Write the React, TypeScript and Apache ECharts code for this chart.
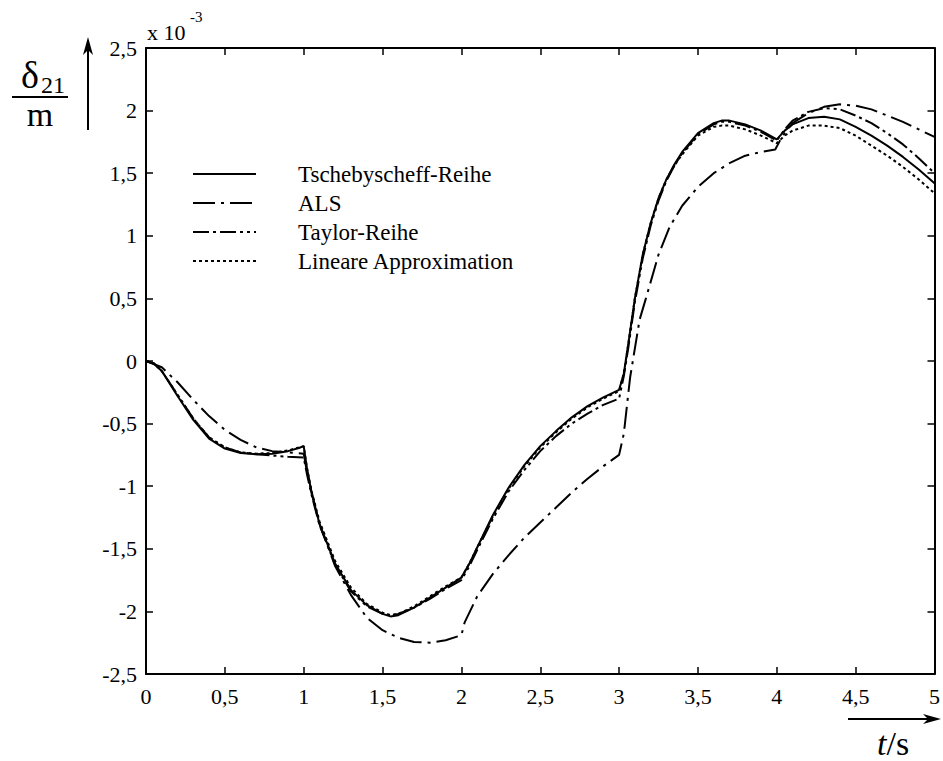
import React, { useEffect, useRef } from "react";
import * as echarts from "echarts";

const seriesNames = ["Tschebyscheff-Reihe", "ALS", "Taylor-Reihe", "Lineare Approximation"];

const tschebyscheff: [number, number][] = [
  [0, 0], [0.05, -0.02], [0.1, -0.08], [0.2, -0.28], [0.3, -0.47], [0.4, -0.62], [0.5, -0.7], [0.6, -0.735],
  [0.7, -0.745], [0.8, -0.74], [0.9, -0.72], [0.97, -0.695], [1.0, -0.68], [1.02, -0.85], [1.05, -1.05],
  [1.1, -1.3], [1.2, -1.62], [1.3, -1.83], [1.4, -1.95], [1.5, -2.02], [1.55, -2.04], [1.6, -2.03],
  [1.7, -1.97], [1.8, -1.89], [1.9, -1.81], [2.0, -1.73], [2.05, -1.62], [2.1, -1.49], [2.2, -1.23],
  [2.3, -1.01], [2.4, -0.83], [2.5, -0.68], [2.6, -0.56], [2.7, -0.45], [2.8, -0.36], [2.9, -0.29],
  [3.0, -0.23], [3.03, -0.1], [3.06, 0.15], [3.1, 0.5], [3.15, 0.85], [3.2, 1.1], [3.25, 1.3], [3.3, 1.45],
  [3.35, 1.57], [3.4, 1.67], [3.5, 1.82], [3.6, 1.9], [3.65, 1.92], [3.7, 1.92], [3.8, 1.89], [3.9, 1.84],
  [4.0, 1.77], [4.05, 1.84], [4.1, 1.89], [4.2, 1.94], [4.3, 1.95], [4.4, 1.93], [4.5, 1.87], [4.6, 1.8],
  [4.7, 1.72], [4.8, 1.63], [4.9, 1.53], [5.0, 1.42],
];

const als: [number, number][] = [
  [0, 0], [0.1, -0.05], [0.2, -0.17], [0.3, -0.31], [0.4, -0.44], [0.5, -0.55], [0.6, -0.63], [0.7, -0.69],
  [0.8, -0.72], [0.9, -0.73], [1.0, -0.74], [1.02, -0.88], [1.05, -1.05], [1.1, -1.3], [1.2, -1.64],
  [1.3, -1.87], [1.4, -2.05], [1.5, -2.15], [1.6, -2.21], [1.7, -2.245], [1.8, -2.25], [1.9, -2.23],
  [2.0, -2.19], [2.02, -2.09], [2.1, -1.88], [2.2, -1.7], [2.3, -1.55], [2.4, -1.41], [2.5, -1.29],
  [2.6, -1.17], [2.7, -1.05], [2.8, -0.94], [2.9, -0.84], [3.0, -0.75], [3.03, -0.58], [3.07, -0.13],
  [3.13, 0.33], [3.17, 0.5], [3.25, 0.85], [3.32, 1.07], [3.4, 1.24], [3.5, 1.39], [3.6, 1.5], [3.7, 1.58],
  [3.8, 1.64], [3.9, 1.67], [3.99, 1.69], [4.02, 1.76], [4.05, 1.82], [4.1, 1.9], [4.2, 1.98], [4.3, 2.03],
  [4.4, 2.05], [4.5, 2.04], [4.6, 2.01], [4.7, 1.96], [4.8, 1.91], [4.9, 1.85], [5.0, 1.79],
];

const taylor: [number, number][] = [
  [0, 0], [0.05, -0.02], [0.1, -0.08], [0.2, -0.27], [0.3, -0.46], [0.4, -0.61], [0.5, -0.69], [0.6, -0.73],
  [0.7, -0.745], [0.8, -0.755], [0.9, -0.765], [1.0, -0.77], [1.02, -0.9], [1.05, -1.07], [1.1, -1.31],
  [1.2, -1.63], [1.3, -1.84], [1.4, -1.96], [1.5, -2.02], [1.55, -2.03], [1.6, -2.02], [1.7, -1.97],
  [1.8, -1.9], [1.9, -1.82], [2.0, -1.75], [2.05, -1.64], [2.1, -1.51], [2.2, -1.26], [2.3, -1.04],
  [2.4, -0.87], [2.5, -0.72], [2.6, -0.6], [2.7, -0.5], [2.8, -0.42], [2.9, -0.35], [3.0, -0.3],
  [3.03, -0.12], [3.06, 0.12], [3.1, 0.47], [3.15, 0.82], [3.2, 1.08], [3.25, 1.28], [3.3, 1.44],
  [3.35, 1.56], [3.4, 1.66], [3.5, 1.81], [3.6, 1.89], [3.65, 1.91], [3.7, 1.91], [3.8, 1.88], [3.9, 1.83],
  [4.0, 1.76], [4.05, 1.85], [4.1, 1.92], [4.2, 1.99], [4.3, 2.02], [4.4, 2.01], [4.5, 1.96], [4.6, 1.9],
  [4.7, 1.82], [4.8, 1.73], [4.9, 1.62], [5.0, 1.5],
];

const lineare: [number, number][] = [
  [0, 0], [0.05, -0.02], [0.1, -0.08], [0.2, -0.27], [0.3, -0.46], [0.4, -0.61], [0.5, -0.69], [0.6, -0.73],
  [0.7, -0.74], [0.8, -0.735], [0.9, -0.715], [0.97, -0.69], [1.0, -0.68], [1.02, -0.85], [1.05, -1.04],
  [1.1, -1.28], [1.2, -1.6], [1.3, -1.81], [1.4, -1.94], [1.5, -2.01], [1.55, -2.03], [1.6, -2.02],
  [1.7, -1.96], [1.8, -1.88], [1.9, -1.8], [2.0, -1.73], [2.05, -1.62], [2.1, -1.49], [2.2, -1.24],
  [2.3, -1.02], [2.4, -0.84], [2.5, -0.69], [2.6, -0.57], [2.7, -0.46], [2.8, -0.37], [2.9, -0.3],
  [3.0, -0.24], [3.03, -0.1], [3.06, 0.15], [3.1, 0.5], [3.15, 0.85], [3.2, 1.1], [3.25, 1.3], [3.3, 1.45],
  [3.35, 1.56], [3.4, 1.65], [3.5, 1.8], [3.6, 1.87], [3.65, 1.88], [3.7, 1.88], [3.8, 1.85], [3.9, 1.8],
  [4.0, 1.74], [4.05, 1.8], [4.1, 1.84], [4.2, 1.88], [4.3, 1.88], [4.4, 1.86], [4.5, 1.8], [4.6, 1.72],
  [4.7, 1.64], [4.8, 1.55], [4.9, 1.45], [5.0, 1.34],
];

const seriesData = [tschebyscheff, als, taylor, lineare];
const dashPatterns: (number[] | null)[] = [
  null,
  [22, 6, 3, 6],
  [16, 4, 3, 4, 16, 4, 3, 4, 3, 4],
  [3, 3],
];

const SERIF = "Liberation Serif";
const fmt = (v: number) => String(v).replace(".", ",");

export default function App() {
  const ref = useRef<HTMLDivElement>(null);
  useEffect(() => {
    if (!ref.current) return;
    const chart = echarts.init(ref.current, undefined, { renderer: "svg" });
    const axisLine = { show: true, onZero: false, lineStyle: { color: "#000", width: 2 } };
    const axisTick = { show: true, inside: true, length: 7, lineStyle: { color: "#000", width: 1.5 } };
    const label = { color: "#000", fontFamily: SERIF, fontSize: 22, formatter: fmt };

    const legendRowY = [174, 203, 232, 261];
    const legendGraphics: any[] = [];
    seriesNames.forEach((name, i) => {
      const y = legendRowY[i];
      legendGraphics.push({
        type: "line",
        shape: { x1: 193, y1: y, x2: 256, y2: y },
        style: { stroke: "#000", lineWidth: 2, lineDash: dashPatterns[i] || undefined },
      });
      legendGraphics.push({
        type: "text",
        x: 298,
        y,
        style: { text: name, fill: "#000", fontFamily: SERIF, fontSize: 23, align: "left", verticalAlign: "middle" },
      });
    });

    const option: any = {
      animation: false,
      backgroundColor: "#fff",
      textStyle: { fontFamily: SERIF, color: "#000" },
      grid: { left: 146, top: 48, right: 3, bottom: 87 },
      xAxis: [
        { type: "value", min: 0, max: 5, interval: 0.5, position: "bottom", axisLine, axisTick,
          axisLabel: { ...label, margin: 11 }, splitLine: { show: false } },
        { type: "value", min: 0, max: 5, interval: 0.5, position: "top", axisLine, axisTick,
          axisLabel: { show: false }, splitLine: { show: false } },
      ],
      yAxis: [
        { type: "value", min: -2.5, max: 2.5, interval: 0.5, position: "left", axisLine, axisTick,
          axisLabel: { ...label, margin: 9 }, splitLine: { show: false } },
        { type: "value", min: -2.5, max: 2.5, interval: 0.5, position: "right", axisLine, axisTick,
          axisLabel: { show: false }, splitLine: { show: false } },
      ],
      series: seriesNames.map((name, i) => ({
        name,
        type: "line",
        data: seriesData[i],
        symbol: "none",
        showSymbol: false,
        lineStyle: { color: "#000", width: 2, type: dashPatterns[i] || "solid" },
        itemStyle: { color: "#000" },
        z: 3,
      })),
      graphic: [
        ...legendGraphics,
        { type: "text", x: 147, y: 32, style: { text: "x 10", fill: "#000", fontFamily: SERIF, fontSize: 22, align: "left", verticalAlign: "middle" } },
        { type: "text", x: 190, y: 17, style: { text: "-3", fill: "#000", fontFamily: SERIF, fontSize: 15, align: "left", verticalAlign: "middle" } },
        { type: "text", x: 30, y: 75, style: { text: "δ", fill: "#000", fontFamily: SERIF, fontSize: 38, align: "center", verticalAlign: "middle" } },
        { type: "text", x: 41, y: 85, style: { text: "21", fill: "#000", fontFamily: SERIF, fontSize: 24, align: "left", verticalAlign: "middle" } },
        { type: "line", shape: { x1: 12, y1: 97, x2: 68, y2: 97 }, style: { stroke: "#000", lineWidth: 2 } },
        { type: "text", x: 40, y: 114, style: { text: "m", fill: "#000", fontFamily: SERIF, fontSize: 34, align: "center", verticalAlign: "middle" } },
        { type: "line", shape: { x1: 88, y1: 130, x2: 88, y2: 46 }, style: { stroke: "#000", lineWidth: 2 } },
        { type: "polygon", shape: { points: [[88, 37], [83, 55], [88, 50], [93, 55]] }, style: { fill: "#000" } },
        { type: "line", shape: { x1: 848, y1: 719, x2: 930, y2: 719 }, style: { stroke: "#000", lineWidth: 2 } },
        { type: "polygon", shape: { points: [[941, 719], [923, 714], [928, 719], [923, 724]] }, style: { fill: "#000" } },
        { type: "text", x: 877, y: 743, style: { text: "{i|t}{r|/s}", fill: "#000", fontFamily: SERIF, fontSize: 34, align: "left", verticalAlign: "middle",
          rich: { i: { fontFamily: SERIF, fontSize: 34, fontStyle: "italic", fill: "#000" }, r: { fontFamily: SERIF, fontSize: 34, fill: "#000" } } } },
      ],
    };
    chart.setOption(option);
    return () => chart.dispose();
  }, []);
  return <div ref={ref} style={{ position: "absolute", left: 0, top: 0, width: 943, height: 761 }} />;
}
